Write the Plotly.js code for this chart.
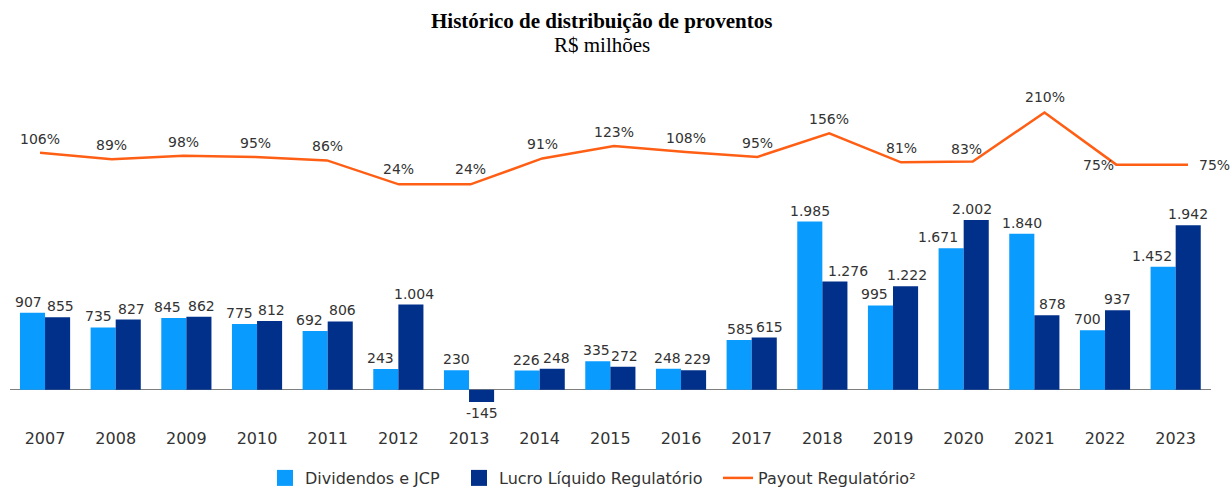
<!DOCTYPE html>
<html>
<head>
<meta charset="utf-8">
<script src="https://cdn.plot.ly/plotly-3.0.1.min.js"></script>
<style>html,body{margin:0;padding:0;background:#fff;}#chart{width:1230px;height:495px;}</style>
</head>
<body>
<div id="chart"></div>
<script>
const years = ['2007','2008','2009','2010','2011','2012','2013','2014','2015','2016','2017','2018','2019','2020','2021','2022','2023'];
const dividendos = [907,735,845,775,692,243,230,226,335,248,585,1985,995,1671,1840,700,1452];
const lucro = [855,827,862,812,806,1004,-145,248,272,229,615,1276,1222,2002,878,937,1942];
const payout = [106,89,98,95,86,24,24,91,123,108,95,156,81,83,210,75,75];

// label placement offsets (pixels) – style only
const divLabelDX = [-4,-5,-6,-5,-6,-5,0,-1,-1,-1,1,0,-6,-13,0,-5,-11];
const lucLabelDX = [3,3,3,2,2,3,0,4,2,4,5,13,1,-4,6,0,0];
const payoutLabelDX = [0,0,0,0,0,0,0,0,0,0,0,0,0,-6,0,-18,26];
const payoutLabelDY = [14,14,14,14,14,15,15,14,14,14,14,14,14,13,15,0,0];

function fmt(v){
  const s = Math.abs(v).toString().replace(/\B(?=(\d{3})+(?!\d))/g,'.');
  return (v<0?'-':'')+s;
}

const fontFam = 'DejaVu Sans, Verdana, sans-serif';
const txtCol = '#333333';
const cLight = '#0A9BFF', cDark = '#00308A', cOrange = '#FF5F15';
const BARGAP = 0.29;
const halfOff = (1-BARGAP)/4;

const traces = [
  {type:'bar', name:'Dividendos e JCP', x:years, y:dividendos, showlegend:false,
   marker:{color:cLight}, xaxis:'x', yaxis:'y', hoverinfo:'skip'},
  {type:'bar', name:'Lucro Líquido Regulatório', x:years, y:lucro, showlegend:false,
   marker:{color:cDark}, xaxis:'x', yaxis:'y', hoverinfo:'skip'},
  {type:'scatter', mode:'lines', name:'Payout Regulatório²', x:years, y:payout, showlegend:false,
   line:{color:cOrange, width:2.5}, xaxis:'x2', yaxis:'y2', hoverinfo:'skip', cliponaxis:false},
  // legend entries
  {type:'scatter', mode:'markers', name:'Dividendos e JCP', x:[null], y:[null], legend:'legend',
   marker:{symbol:'square', size:16, color:cLight}, xaxis:'x', yaxis:'y'},
  {type:'scatter', mode:'markers', name:'Lucro Líquido Regulatório', x:[null], y:[null], legend:'legend2',
   marker:{symbol:'square', size:16, color:cDark}, xaxis:'x', yaxis:'y'},
  {type:'scatter', mode:'lines', name:'Payout Regulatório²', x:[null], y:[null], legend:'legend3',
   line:{color:cOrange, width:2.5}, xaxis:'x', yaxis:'y'}
];

const annotations = [
  {text:'<b>Histórico de distribuição de proventos</b>', xref:'paper', yref:'paper', x:601/1230, y:1-21/495,
   showarrow:false, xanchor:'center', yanchor:'middle', font:{family:'Liberation Serif, Times New Roman, serif', size:21, color:'#000'}},
  {text:'R$ milhões', xref:'paper', yref:'paper', x:602/1230, y:1-46/495,
   showarrow:false, xanchor:'center', yanchor:'middle', font:{family:'Liberation Serif, Times New Roman, serif', size:21, color:'#000'}}
];
payout.forEach((p,i)=>{
  annotations.push({text:p+'%', x:i, y:p, xref:'x2', yref:'y2', showarrow:false,
    xanchor:'center', yanchor:'middle', xshift:payoutLabelDX[i], yshift:payoutLabelDY[i],
    font:{family:fontFam, size:14, color:txtCol}});
});
function barLabel(v, i, off, dx){
  annotations.push({text:fmt(v), x:i+off, y:v, xref:'x', yref:'y', showarrow:false,
    xanchor:'center', yanchor:v<0?'top':'bottom', xshift:dx, yshift:v<0?-1:1,
    font:{family:fontFam, size:14, color:txtCol}});
}
dividendos.forEach((v,i)=>barLabel(v,i,-halfOff,divLabelDX[i]));
lucro.forEach((v,i)=>barLabel(v,i,halfOff,lucLabelDX[i]));

const hiddenAxis = {showline:false, showgrid:false, zeroline:false, showticklabels:false, ticks:'', fixedrange:true};
const legBase = {orientation:'h', y:1-489/495, yanchor:'middle', xanchor:'left', bgcolor:'rgba(0,0,0,0)',
  font:{family:fontFam, size:16, color:txtCol}, itemsizing:'trace'};

const layout = {
  width:1230, height:495,
  margin:{l:0,r:0,t:0,b:0},
  paper_bgcolor:'#fff', plot_bgcolor:'rgba(0,0,0,0)',
  barmode:'group', bargap:BARGAP, bargroupgap:0,
  showlegend:true,
  legend:Object.assign({}, legBase, {x:265/1230}),
  legend2:Object.assign({}, legBase, {x:459/1230}),
  legend3:Object.assign({}, legBase, {x:718/1230}),
  xaxis:{type:'category', domain:[9.7/1230, 1211/1230], range:[-0.5,16.5], showline:false, showgrid:false,
    zeroline:false, ticks:'', ticklabelstandoff:4, tickfont:{family:fontFam, size:16, color:txtCol}, anchor:'y', fixedrange:true},
  yaxis:Object.assign({}, hiddenAxis, {domain:[1-433/495, 1-203/495], range:[-398, 2257],
    zeroline:true, zerolinecolor:'#7f7f7f', zerolinewidth:1.5}),
  xaxis2:Object.assign({}, hiddenAxis, {type:'category', domain:[40/1230, 1188/1230], range:[0,16], anchor:'y2'}),
  yaxis2:Object.assign({}, hiddenAxis, {domain:[1-198/495, 1-102/495], range:[0,243], anchor:'x2'}),
  annotations:annotations
};

Plotly.newPlot('chart', traces, layout, {displayModeBar:false, staticPlot:true});
</script>
</body>
</html>
